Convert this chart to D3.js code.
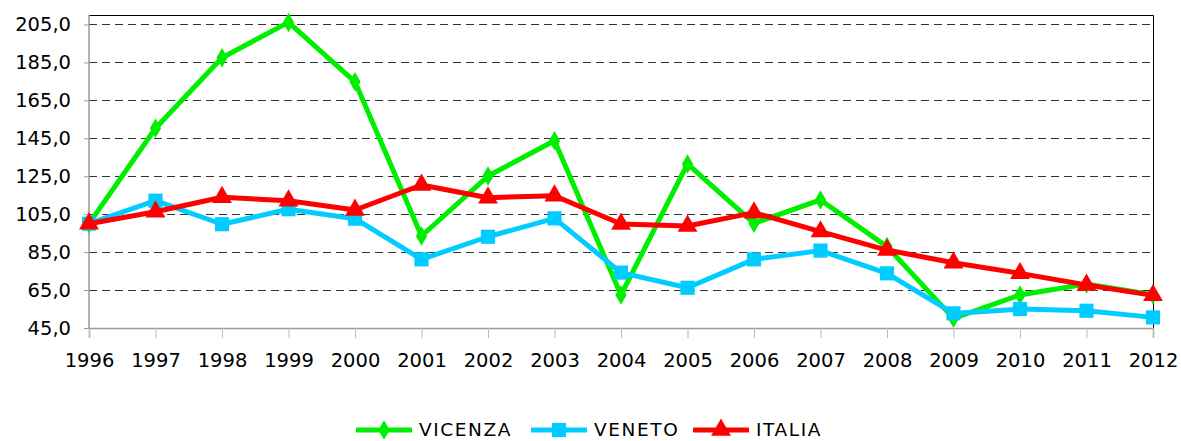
<!DOCTYPE html>
<html><head><meta charset="utf-8">
<script src="https://cdn.jsdelivr.net/npm/d3@7"></script>
<style>body{margin:0;background:#fff}svg{display:block}text{font-family:"DejaVu Sans",Verdana,sans-serif}</style>
</head><body><svg id="c" width="1181" height="441"></svg>
<script>
const years = [1996,1997,1998,1999,2000,2001,2002,2003,2004,2005,2006,2007,2008,2009,2010,2011,2012];
const vicenza = [100,150.3,187.5,206.1,174.8,93.5,125.1,143.7,62.4,131.5,100.2,112.5,87.9,50.1,62.4,68.2,62.5];
const veneto  = [100,112.1,99.7,107.6,102.6,81.2,93.1,102.8,74.2,66.2,81.2,85.8,73.8,52.7,55.0,54.1,50.6];
const italia  = [100,106.3,113.9,112.1,107.2,120.4,113.7,114.7,99.8,98.8,105.8,95.8,86.1,79.4,73.8,67.7,62.2];
const yTicks = [45,65,85,105,125,145,165,185,205];
const seriesNames = ["VICENZA","VENETO","ITALIA"];

const svg = d3.select("#c");
const L=89,R=1153,T=15,B=328;
const x = d3.scalePoint().domain(years).range([L,R]);
const y = d3.scaleLinear().domain([45,210]).range([B,T]);
const fmt = v => d3.format(".1f")(v).replace(".",",");

// gridlines
svg.append("g").selectAll("line").data(yTicks.slice(1)).join("line")
  .attr("x1",L).attr("x2",R).attr("y1",d=>Math.round(y(d))+0.5).attr("y2",d=>Math.round(y(d))+0.5)
  .attr("stroke","#333").attr("stroke-width",1).attr("stroke-dasharray","8,5");

// frame top/right
svg.append("path").attr("d",`M${L},${T+0.5}H${R+0.5}V${B}`).attr("fill","none").attr("stroke","#000").attr("stroke-width",1);

// y axis
const ya = svg.append("g").attr("transform",`translate(${L},0)`)
  .call(d3.axisLeft(y).tickValues(yTicks).tickFormat(fmt).tickSize(5).tickPadding(13));
ya.select(".domain").attr("stroke","#999").attr("stroke-width",1.5).attr("d",`M0,${T}V${B}`);
ya.selectAll(".tick line").attr("stroke","#999");
ya.selectAll("text").attr("font-size","19.5px").attr("fill","#000").attr("font-family","DejaVu Sans");

// x axis
const xa = svg.append("g").attr("transform",`translate(0,${B})`)
  .call(d3.axisBottom(x).tickSize(10).tickPadding(15));
xa.select(".domain").attr("stroke","#999").attr("stroke-width",1.5);
xa.selectAll(".tick line").attr("stroke","#bbb");
xa.selectAll("text").attr("font-size","19.5px").attr("fill","#000").attr("font-family","DejaVu Sans");

const series = [
  {name:seriesNames[0], vals:vicenza, color:"#00ee00", sym:d3.symbolDiamond, size:110},
  {name:seriesNames[1], vals:veneto, color:"#00ccff", sym:d3.symbolSquare, size:200},
  {name:seriesNames[2], vals:italia, color:"#ff0000", sym:d3.symbolTriangle, size:170}
];
const line = d3.line().x((d,i)=>x(years[i])).y(d=>y(d));
series.forEach(s=>{
  const g = svg.append("g");
  g.append("path").datum(s.vals).attr("d",line).attr("fill","none").attr("stroke",s.color).attr("stroke-width",5).attr("stroke-linejoin","round");
  g.selectAll("path.m").data(s.vals).join("path").attr("class","m")
    .attr("transform",(d,i)=>`translate(${x(years[i])},${y(d)})`)
    .attr("d",d3.symbol(s.sym,s.size)).attr("fill",s.color);
});

// legend
const legX = [356,531,693];
const lg = svg.append("g");
series.forEach((s,i)=>{
  const g = lg.append("g").attr("transform",`translate(${legX[i]},430)`);
  g.append("line").attr("x1",0).attr("x2",56).attr("stroke",s.color).attr("stroke-width",5);
  g.append("path").attr("transform","translate(28,0)").attr("d",d3.symbol(s.sym,s.size)).attr("fill",s.color);
  g.append("text").attr("x",63).attr("y",6).attr("font-size","18.5px").attr("letter-spacing","1.6px").attr("fill","#000").text(s.name);
});
</script></body></html>
